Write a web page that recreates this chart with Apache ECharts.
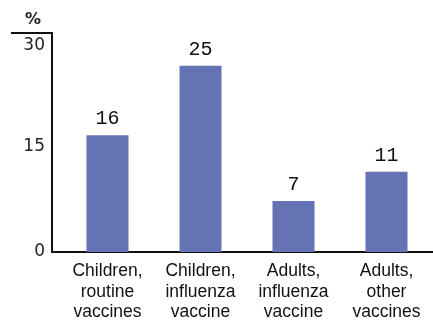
<!DOCTYPE html>
<html>
<head>
<meta charset="utf-8">
<script src="https://cdn.jsdelivr.net/npm/echarts@6/dist/echarts.min.js"></script>
<style>html,body{margin:0;padding:0;background:#fff}#c{width:433px;height:326px}</style>
</head>
<body>
<div id="c"></div>
<script>
var categories = ['Children,\nroutine\nvaccines', 'Children,\ninfluenza\nvaccine', 'Adults,\ninfluenza\nvaccine', 'Adults,\nother\nvaccines'];
var values = [16, 25.5, 7, 11];
var valueLabels = ['16', '25', '7', '11'];
var yTicks = [0, 15, 30];

var chart = echarts.init(document.getElementById('c'));
chart.setOption({
  animation: false,
  title: { text: '%', left: 20, top: 7, textStyle: { fontFamily: 'DejaVu Sans', fontSize: 16, fontWeight: 'bold', color: '#222' } },
  grid: { left: 61, right: -2, top: 33, bottom: 74 },
  xAxis: {
    type: 'category', data: categories,
    axisLine: { lineStyle: { color: '#111', width: 2 } },
    axisTick: { show: false },
    axisLabel: { fontFamily: 'Liberation Sans', fontSize: 17.5, lineHeight: 20.5, color: '#111', margin: 9, interval: 0 }
  },
  yAxis: {
    type: 'value', min: 0, max: 30, interval: 15, offset: 9,
    axisLine: { show: true, lineStyle: { color: '#111', width: 2 } },
    axisTick: { show: false },
    splitLine: { show: false },
    axisLabel: {
      margin: 7, color: '#222',
      formatter: function (v) { return v === 30 ? '{t|30}' : v === 15 ? '{m|15}' : '{b|' + v + '}'; },
      rich: {
        t: { fontFamily: 'DejaVu Sans', fontSize: 17, color: '#222', padding: [26, 0, 0, 0] },
        m: { fontFamily: 'DejaVu Sans', fontSize: 17, color: '#222', padding: [8, 0, 0, 0] },
        b: { fontFamily: 'DejaVu Sans', fontSize: 17, color: '#222' }
      }
    }
  },
  series: [{
    type: 'bar', data: values, barWidth: 42,
    itemStyle: { color: '#6572b4' },
    label: {
      show: true, position: 'top', distance: 6,
      fontFamily: 'Liberation Mono', fontSize: 20, color: '#111',
      formatter: function (p) { return valueLabels[p.dataIndex]; }
    }
  }]
});
var y0 = chart.convertToPixel({ yAxisIndex: 0 }, 0);
var yTop = chart.convertToPixel({ yAxisIndex: 0 }, 30);
chart.setOption({
  graphic: [
    { type: 'line', shape: { x1: 11, y1: yTop, x2: 53, y2: yTop }, style: { stroke: '#111', lineWidth: 2 } },
    { type: 'line', shape: { x1: 51, y1: y0, x2: 63, y2: y0 }, style: { stroke: '#111', lineWidth: 2 } }
  ]
});
</script>
</body>
</html>
